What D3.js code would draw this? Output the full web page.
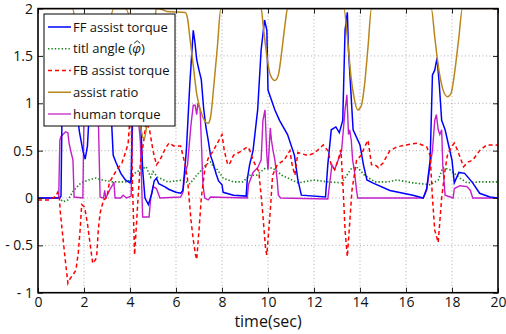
<!DOCTYPE html>
<html lang="en">
<head>
<meta charset="UTF-8">
<title>assist torque</title>
<script src="https://d3js.org/d3.v7.min.js"></script>
<style>
  body { margin: 0; background: #fff; }
  text { font-family: "Open Sans", "Liberation Sans", sans-serif; }
</style>
</head>
<body>
<script>
// DATA (time [s], value)
var xTicks = [0, 2, 4, 6, 8, 10, 12, 14, 16, 18, 20];
var yTicks = [-1, -0.5, 0, 0.5, 1, 1.5, 2];
var yTickLabels = ["- 1", "- 0.5", "0", "0.5", "1", "1.5", "2"];
var seriesNames = ["FF assist torque", "titl angle (", "FB assist torque", "assist ratio", "human torque"];

var ffTorque = [[0,0],[0.95,0],[1.0,0.02],[1.05,1.0],[1.1,1.3],[1.5,1.2],[1.7,0.9],[1.8,0.7],[1.95,0.5],[2.05,0.41],[2.15,0.55],[2.25,1.0],[2.4,1.3],[3.1,1.1],[3.2,0.8],[3.27,0.45],[3.4,0.37],[3.6,0.26],[3.8,0.19],[4.0,0.16],[4.05,0.2],[4.1,0.9],[4.3,1.2],[4.45,0.9],[4.55,0.3],[4.65,0.0],[4.8,-0.07],[4.95,0.05],[5.05,0.18],[5.15,0.21],[5.25,0.15],[5.5,0.12],[5.7,0.09],[6.0,0.06],[6.2,0.05],[6.3,0.08],[6.45,0.5],[6.6,1.2],[6.75,1.77],[6.82,1.65],[6.9,1.46],[7.0,1.35],[7.1,1.25],[7.2,0.95],[7.3,0.75],[7.4,0.61],[7.5,0.45],[7.6,0.38],[7.75,0.25],[7.85,0.18],[8.0,0.14],[8.05,0.06],[8.5,0.03],[9.05,0.02],[9.1,0.2],[9.2,0.35],[9.35,0.5],[9.55,0.93],[9.7,1.56],[9.85,1.88],[9.95,1.77],[10.0,1.14],[10.1,1.07],[10.3,0.93],[10.5,0.82],[10.85,0.67],[11.15,0.45],[11.3,0.19],[11.45,0.03],[12.5,0.01],[12.6,0.35],[12.75,0.72],[12.95,0.75],[13.1,0.69],[13.25,0.82],[13.35,1.77],[13.45,1.96],[13.5,1.56],[13.7,0.72],[14.0,0.56],[14.15,0.35],[14.3,0.19],[14.55,0.16],[15.3,0.08],[16.3,0.03],[16.75,0.0],[16.9,0.1],[17.05,0.4],[17.15,1.3],[17.25,1.35],[17.35,1.48],[17.45,1.19],[17.55,0.82],[17.7,0.72],[17.85,0.56],[18.0,0.4],[18.1,0.16],[18.3,0.27],[18.55,0.26],[18.9,0.16],[19.2,0.05],[19.65,0.01],[20,0]];

var tiltAngle = [[0,0],[0.9,0],[1.1,-0.04],[1.3,-0.02],[1.55,0.08],[1.87,0.16],[2.2,0.19],[2.5,0.21],[2.8,0.19],[3.25,0.17],[3.9,0.17],[4.25,0.27],[4.7,0.33],[4.9,0.22],[5.0,0.28],[5.2,0.22],[5.65,0.17],[6.3,0.19],[6.6,0.15],[6.9,0.24],[7.3,0.35],[7.5,0.38],[7.65,0.32],[7.8,0.3],[8.05,0.21],[8.5,0.17],[8.9,0.17],[9.2,0.24],[9.5,0.24],[9.9,0.32],[10.1,0.32],[10.3,0.3],[10.6,0.24],[11.05,0.19],[11.3,0.16],[12.0,0.19],[12.6,0.17],[13.2,0.16],[13.65,0.32],[13.9,0.32],[14.2,0.24],[14.65,0.17],[15.2,0.17],[15.6,0.19],[16.3,0.16],[17.05,0.14],[17.4,0.19],[17.6,0.32],[17.9,0.3],[18.35,0.21],[18.65,0.16],[19.2,0.17],[20,0.17]];

var fbTorque = [[0,-0.02],[0.5,-0.02],[0.8,0.02],[0.85,0.06],[0.92,0.03],[0.97,-0.15],[1.05,-0.34],[1.17,-0.62],[1.3,-0.9],[1.4,-0.85],[1.55,-0.8],[1.65,-0.76],[1.75,-0.58],[1.83,-0.34],[1.9,-0.07],[2.0,-0.09],[2.05,-0.13],[2.15,-0.27],[2.3,-0.55],[2.38,-0.69],[2.5,-0.65],[2.55,-0.62],[2.62,-0.34],[2.7,-0.16],[2.85,-0.02],[3.0,0.01],[3.1,0.16],[3.43,0.3],[3.65,0.37],[3.83,0.5],[3.92,0.58],[4.0,0.85],[4.05,0.9],[4.1,0.2],[4.2,-0.6],[4.3,-0.2],[4.35,0.0],[4.45,0.37],[4.6,0.61],[4.7,0.8],[4.85,0.72],[5.0,0.5],[5.15,0.35],[5.3,0.4],[5.55,0.53],[5.7,0.58],[5.9,0.55],[6.2,0.55],[6.3,0.45],[6.4,0.35],[6.5,0.2],[6.65,-0.23],[6.75,-0.44],[6.85,-0.6],[6.9,-0.65],[7.0,-0.34],[7.1,0.0],[7.25,0.3],[7.4,0.42],[7.6,0.49],[7.8,0.58],[8.0,0.67],[8.1,0.5],[8.25,0.35],[8.35,0.37],[8.5,0.45],[8.8,0.49],[9.1,0.54],[9.2,0.51],[9.35,0.4],[9.45,0.35],[9.6,0.28],[9.75,-0.1],[9.9,-0.55],[9.95,-0.6],[10.1,-0.13],[10.2,0.24],[10.4,0.35],[10.7,0.4],[10.95,0.5],[11.05,0.35],[11.17,0.24],[11.3,0.48],[11.7,0.45],[12.0,0.47],[12.4,0.56],[12.6,0.5],[12.75,0.35],[12.9,0.3],[13.05,0.4],[13.17,0.51],[13.27,0.08],[13.35,-0.34],[13.45,-0.62],[13.65,0.08],[13.85,0.4],[14.05,0.45],[14.2,0.54],[14.35,0.61],[14.5,0.35],[14.65,0.35],[14.8,0.32],[15.0,0.37],[15.3,0.5],[15.6,0.54],[16.0,0.56],[16.5,0.58],[16.9,0.54],[17.05,0.45],[17.15,0.0],[17.25,-0.34],[17.4,-0.47],[17.55,0.0],[17.7,0.3],[17.8,0.45],[17.95,0.53],[18.1,0.58],[18.25,0.5],[18.5,0.33],[18.7,0.38],[18.9,0.4],[19.2,0.5],[19.5,0.56],[20,0.56]];

var assistRatio = [[0,2],[1.5,2],[1.65,1.8],[2.0,1.2],[2.3,1.0],[2.6,1.2],[3.0,1.7],[3.3,2],[3.8,2],[4.1,1.7],[4.35,1.0],[4.5,0.7],[4.6,0.62],[4.7,0.72],[4.85,1.2],[5.05,1.8],[5.15,2.0],[5.4,1.99],[5.6,1.97],[6.4,1.96],[6.5,1.9],[6.6,1.7],[6.75,1.4],[6.9,1.1],[7.1,0.9],[7.3,0.8],[7.4,0.79],[7.5,0.85],[7.65,1.2],[7.8,1.6],[7.95,2],[9.7,2],[9.8,1.8],[9.95,1.5],[10.1,1.3],[10.3,1.24],[10.45,1.3],[10.6,1.55],[10.75,1.85],[10.85,2],[13.3,2],[13.45,1.7],[13.6,1.3],[13.75,1.05],[13.9,0.93],[14.05,0.97],[14.2,1.2],[14.35,1.6],[14.5,2],[17.1,2],[17.25,1.7],[17.4,1.4],[17.6,1.15],[17.8,1.07],[17.95,1.1],[18.1,1.3],[18.3,1.7],[18.45,2],[20,2]];

var humanTorque = [[0,0],[0.9,0],[0.95,0.61],[1.0,0.65],[1.2,0.7],[1.3,0.69],[1.35,0.58],[1.45,0.47],[1.52,0.4],[1.57,0.01],[1.95,0],[2.0,0.9],[2.3,1.3],[2.6,1.1],[2.7,0.01],[2.85,0.0],[2.9,0.08],[2.95,0.0],[3.05,0.05],[3.15,0.1],[3.25,0.14],[3.3,0.17],[3.35,0.0],[3.6,0.0],[3.7,0.03],[3.85,0.0],[4.05,0.02],[4.12,0.9],[4.3,1.0],[4.45,0.6],[4.55,-0.2],[4.83,-0.2],[4.9,0.0],[5.0,0.12],[5.15,0.1],[5.3,0.0],[6.2,0.01],[6.3,0.06],[6.38,0.24],[6.5,0.35],[6.65,0.77],[6.75,0.98],[6.83,0.98],[6.9,0.88],[6.95,1.0],[7.05,0.93],[7.1,0.61],[7.17,0.14],[7.25,0.0],[7.4,-0.02],[7.5,0.01],[9.1,0],[9.15,0.14],[9.35,0.27],[9.55,0.32],[9.7,0.4],[9.78,0.82],[9.87,0.93],[9.95,0.45],[10.0,0.3],[10.1,0.74],[10.15,0.61],[10.22,0.5],[10.3,0.4],[10.4,0.19],[10.45,0.03],[10.55,0.0],[12.6,-0.01],[12.7,0.19],[12.78,0.35],[12.9,0.3],[13.05,0.4],[13.2,0.5],[13.35,0.93],[13.43,1.09],[13.5,0.67],[13.55,0.72],[13.62,0.61],[13.68,0.4],[13.75,0.3],[13.85,0.08],[13.9,0.0],[16.75,0],[16.9,0.08],[17.05,0.35],[17.15,0.5],[17.25,0.82],[17.32,0.88],[17.4,0.72],[17.47,0.67],[17.55,0.72],[17.6,0.35],[17.7,0.03],[18.05,0.0],[18.1,0.1],[18.35,0.13],[18.65,0.12],[18.8,0.08],[18.9,0.0],[20,0]];

var width = 506, height = 334;
var plotL = 38, plotR = 498, plotT = 8.6, plotB = 292.7;

var svg = d3.select("body").append("svg")
    .attr("width", width)
    .attr("height", height);

var x = d3.scaleLinear().domain([0, 20]).range([plotL, plotR]);
var y = d3.scaleLinear().domain([-1, 2]).range([plotB, plotT]);

// grid
var grid = svg.append("g")
    .attr("stroke", "#9a9a9a")
    .attr("stroke-width", 0.8)
    .attr("stroke-dasharray", "1,2.5");
grid.selectAll(".gx").data(xTicks.slice(1, -1)).enter().append("line")
    .attr("x1", d => x(d)).attr("x2", d => x(d))
    .attr("y1", plotT).attr("y2", plotB);
grid.selectAll(".gy").data(yTicks.slice(1, -1)).enter().append("line")
    .attr("x1", plotL).attr("x2", plotR)
    .attr("y1", d => y(d)).attr("y2", d => y(d));

// clip for data lines
svg.append("clipPath").attr("id", "plot")
  .append("rect").attr("x", plotL).attr("y", plotT)
    .attr("width", plotR - plotL).attr("height", plotB - plotT);

var line = d3.line().x(d => x(d[0])).y(d => y(d[1]));
var smooth = d3.line().x(d => x(d[0])).y(d => y(d[1])).curve(d3.curveMonotoneX);

var plot = svg.append("g").attr("clip-path", "url(#plot)").attr("fill", "none");

plot.append("path").datum(tiltAngle).attr("d", line)
    .attr("stroke", "#1a841a").attr("stroke-width", 1.6)
    .attr("stroke-dasharray", "1.4,2");
plot.append("path").datum(humanTorque).attr("d", line)
    .attr("stroke", "#c21fc8").attr("stroke-width", 1.4);
plot.append("path").datum(ffTorque).attr("d", line)
    .attr("stroke", "#0000ff").attr("stroke-width", 1.5);
plot.append("path").datum(fbTorque).attr("d", line)
    .attr("stroke", "#ff0000").attr("stroke-width", 1.5)
    .attr("stroke-dasharray", "4,3");
plot.append("path").datum(assistRatio).attr("d", smooth)
    .attr("stroke", "#b8861b").attr("stroke-width", 1.5);

// axes with inward ticks
svg.append("g").attr("transform", "translate(0," + plotB + ")")
    .call(d3.axisBottom(x).tickValues(xTicks).tickSize(-5).tickSizeOuter(0).tickPadding(4));
svg.append("g").attr("transform", "translate(" + plotL + ",0)")
    .call(d3.axisLeft(y).tickValues(yTicks).tickSize(-5).tickSizeOuter(0).tickPadding(5)
        .tickFormat((d, i) => yTickLabels[i]));
svg.append("g").attr("transform", "translate(0," + plotT + ")")
    .call(d3.axisTop(x).tickValues(xTicks).tickSize(-5).tickSizeOuter(0).tickFormat(""));
svg.append("g").attr("transform", "translate(" + plotR + ",0)")
    .call(d3.axisRight(y).tickValues(yTicks).tickSize(-5).tickSizeOuter(0).tickFormat(""));

svg.selectAll(".domain").remove();
svg.selectAll(".tick line").attr("stroke", "#222").attr("stroke-width", 1);
svg.selectAll(".tick text").attr("font-size", 14).attr("fill", "#111")
    .style("font-family", "'Open Sans', sans-serif");

svg.append("rect")
    .attr("x", plotL).attr("y", plotT)
    .attr("width", plotR - plotL).attr("height", plotB - plotT)
    .attr("fill", "none").attr("stroke", "#000").attr("stroke-width", 1.6);

svg.append("text")
    .attr("x", 268).attr("y", 326.5)
    .attr("text-anchor", "middle")
    .attr("font-size", 16)
    .attr("fill", "#111")
    .text("time(sec)");

// legend
var legendItems = [
    {name: seriesNames[0], color: "#0000ff", dash: null},
    {name: seriesNames[1], color: "#1a841a", dash: "1.4,2"},
    {name: seriesNames[2], color: "#ff0000", dash: "4,3"},
    {name: seriesNames[3], color: "#b8861b", dash: null},
    {name: seriesNames[4], color: "#cc44cc", dash: null}
];
var lg = svg.append("g");
lg.append("rect")
    .attr("x", 44).attr("y", 14).attr("width", 131).attr("height", 112)
    .attr("fill", "#fff").attr("stroke", "#000").attr("stroke-width", 1);

var rowY = d3.scaleLinear().domain([0, 4]).range([27, 114]);
legendItems.forEach(function(d, i) {
    lg.append("line")
        .attr("x1", 48).attr("x2", 71)
        .attr("y1", rowY(i)).attr("y2", rowY(i))
        .attr("stroke", d.color).attr("stroke-width", 1.5)
        .attr("stroke-dasharray", d.dash);
    var t = lg.append("text")
        .attr("x", 73).attr("y", rowY(i) + 4.5)
        .attr("font-size", 13).attr("fill", "#111")
        .text(d.name);
    if (i === 1) {
        var w = t.node().getComputedTextLength();
        var phi = t.append("tspan").attr("font-style", "italic").text("\u03C6");
        t.append("tspan").text(")");
        var pw = phi.node().getComputedTextLength();
        var cx = 73 + w + pw / 2 + 0.5;
        var hy = rowY(i) - 8;
        lg.append("path")
            .attr("d", "M" + (cx - 3) + "," + (hy + 2.5) + "L" + cx + "," + hy + "L" + (cx + 3) + "," + (hy + 2.5))
            .attr("fill", "none").attr("stroke", "#111").attr("stroke-width", 0.9);
    }
});
</script>
</body>
</html>
